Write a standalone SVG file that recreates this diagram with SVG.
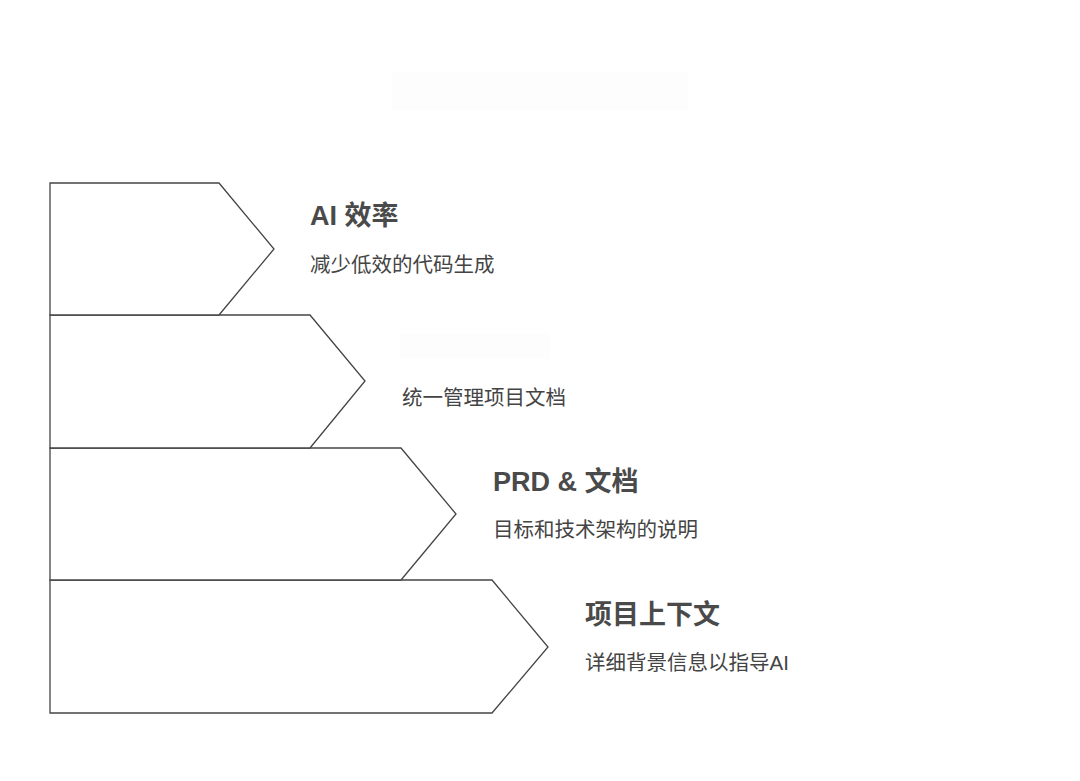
<svg xmlns="http://www.w3.org/2000/svg" width="1080" height="781" viewBox="0 0 1080 781">
<style>
.s{fill:#fff;stroke:#444;stroke-width:1.3}
.h{font-family:"Liberation Sans","Noto Sans CJK SC",sans-serif;font-size:27px;font-weight:bold;fill:#4a4a4a}
.t{font-family:"Liberation Sans","Noto Sans CJK SC",sans-serif;font-size:20.5px;fill:#444}
.b{fill:#fdfdfd}
</style>
<rect width="1080" height="781" fill="#fff"/>
<rect class="b" x="392" y="72" width="296" height="38"/>
<g id="connectors"></g>
<g id="n4"><path class="s" d="M50,580H492L548,647L492,713H50Z"/><text class="h" x="585" y="624">项目上下文</text><text class="t" x="585" y="670">详细背景信息以指导AI</text></g>
<g id="n3"><path class="s" d="M50,448H401L456,514L401,580H50Z"/><text class="h" x="493" y="491">PRD &amp; 文档</text><text class="t" x="493" y="537">目标和技术架构的说明</text></g>
<g id="n2"><path class="s" d="M50,315H310L365,381L310,448H50Z"/><rect class="b" x="400" y="333" width="150" height="26"/><text class="t" x="402" y="405">统一管理项目文档</text></g>
<g id="n1"><path class="s" d="M50,183H219L274,249L219,315H50Z"/><text class="h" x="310" y="225">AI 效率</text><text class="t" x="310" y="272">减少低效的代码生成</text></g>
</svg>
